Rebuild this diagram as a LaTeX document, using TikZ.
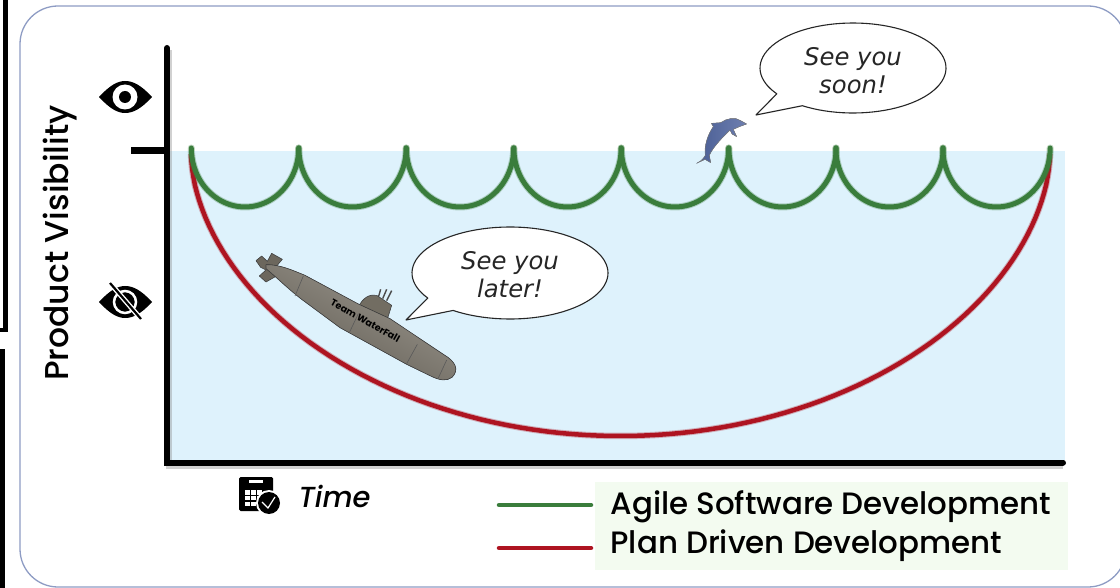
\documentclass[tikz,border=0pt]{standalone}
\usepackage{fontspec}
\setmainfont{Poppins Medium}[ItalicFont={Poppins Medium Italic},BoldFont={Poppins Bold}]
\newfontfamily\dejavu{DejaVu Sans}
\usetikzlibrary{shadings}
\definecolor{water}{HTML}{DEF2FC}
\definecolor{legendbg}{HTML}{F3FBF0}
\definecolor{frameblue}{HTML}{8E9CC4}
\definecolor{wavegreen}{HTML}{3A7D3C}
\definecolor{planred}{HTML}{AE1421}
\definecolor{subgrey}{HTML}{7F796D}
\definecolor{dolphinA}{HTML}{4A5E94}
\definecolor{dolphinB}{HTML}{6E7FB0}
\tikzset{
  x=1pt,y=-1pt,
  axisline/.style={line width=6pt,black},
  axisshadow/.style={line width=6pt,black!45,opacity=.4},
  greenline/.style={line width=5pt,wavegreen},
  greenblur/.style={line width=7pt,wavegreen,opacity=.3},
  redline/.style={line width=4.5pt,planred},
  redblur/.style={line width=6.5pt,planred,opacity=.3},
  bubble/.style={draw=black!85,fill=white,line width=1.1pt,line join=round},
  bubbletext/.style={font=\dejavu\itshape\fontsize{24.3}{28}\selectfont,align=center,text=black!85},
  legendtext/.style={font=\fontsize{30.9}{34}\selectfont,anchor=west,text=black},
  subpart/.style={draw=black!75,line width=.6pt,line join=round},
}
\begin{document}
\begin{tikzpicture}
\useasboundingbox (0,0) rectangle (1120,588);
\fill[white] (0,0) rectangle (1120,588);
% cropped black frames at the left
\draw[black,line width=4.5pt] (5.5,-5) -- (5.5,330) -- (-5,330);
\fill[black] (0,349) rectangle (5,588);
% rounded panel
\draw[frameblue,line width=1.3pt,rounded corners=38pt] (20,6) rectangle (1126,587);
% water and legend background
\fill[water] (170,151) rectangle (1065,460);
\fill[legendbg] (595,482) rectangle (1068,570);
% plan-driven curve
\draw[redblur,domain=0.5:179.5,samples=100] plot ({620.5+429.5*cos(\x)},{152+284*pow(sin(\x),1.08)});
\draw[redline,domain=0.5:179.5,samples=100] plot ({620.5+429.5*cos(\x)},{152+284*pow(sin(\x),1.08)});
% agile scallops
\foreach \c in {245,352.5,460,567.5,675,782.5,889.5,996.5}{
  \draw[greenblur,domain=180:360,samples=40,line cap=round] plot ({\c+53.7*cos(\x)},{148-59*sin(\x)});
  \draw[greenline,domain=180:360,samples=40,line cap=round] plot ({\c+53.7*cos(\x)},{148-59*sin(\x)});
}
% axes
\draw[axisshadow] (166,466) -- (1063,466);
\draw[axisshadow,line width=3pt] (170.5,50) -- (170.5,460);
\draw[axisline,line cap=round] (167,48) -- (167,462.5) -- (1063,462.5);
\draw[axisline,line width=7pt,line cap=butt] (131,151) -- (167,151);
% axis labels
\node[rotate=90,font=\fontsize{33}{36}\selectfont] (ylabel) at (60,243) {Product Visibility};
\node[font=\itshape\fontsize{29}{32}\selectfont,anchor=west] (xlabel) at (295,496) {Time};
% eye icon
\fill[black] (99,97) .. controls (110,85) and (118,81) .. (125,81) .. controls (133,81) and (141,85) .. (152,97) .. controls (141,109) and (133,113) .. (125,113) .. controls (118,113) and (110,109) .. (99,97) -- cycle;
\fill[white] (125,97) circle (12.5);
\fill[black] (125,97) circle (6);
% slashed eye icon
\fill[black] (99,302) .. controls (110,290) and (118,286) .. (125,286) .. controls (133,286) and (141,290) .. (152,302) .. controls (141,314) and (133,318) .. (125,318) .. controls (118,318) and (110,314) .. (99,302) -- cycle;
\draw[white,line width=2.5pt] (125,302) circle (11);
\fill[black] (125,302) circle (6);
\draw[white,line width=5pt] (110,283) -- (141,319);
\draw[black,line width=2.2pt] (110,283) -- (141,319);
% calendar icon
\fill[black,rounded corners=1.5pt] (239,477) rectangle (273,511);
\fill[white] (249,480) rectangle (263,483);
\foreach \i in {0,1,2}{\foreach \j in {0,1,2}{
  \fill[white] ({245+\i*6.2},{490+\j*5.8}) rectangle ({249.5+\i*6.2},{494.5+\j*5.8});}}
\fill[white] (269,503) circle (13);
\fill[black] (269,503) circle (11);
\draw[white,line width=1.2pt] (262,502) -- (268,508) -- (275,497);
% speech bubbles
\coordinate (latertip) at (406,320);
\coordinate (soontip) at (756,115);
\draw[bubble] (latertip) -- plot[domain=147:485.5,samples=90] ({510+98*cos(\x)},{273+46*sin(\x)}) -- cycle;
\draw[bubble] (soontip) -- plot[domain=145:483,samples=90] ({853+93*cos(\x)},{68+45*sin(\x)}) -- cycle;
\node[bubbletext] (later) at (510,275) {See you\\later!};
\node[bubbletext] (soon) at (853,71) {See you\\soon!};
% submarine
\begin{scope}[shift={(230,220)},scale=1/3]
  \filldraw[subpart,fill=subgrey!85!black] (78,122) -- (95,108) -- (112,124) -- (125,100) -- (157,118) -- (140,138) -- (122,140) -- (136,170) -- (108,186) -- (88,168) -- (108,150) -- (92,142) -- cycle;
  \draw[black!70,line width=1.4pt] (445,232) -- (452,208) (458,236) -- (470,208) (470,242) -- (485,212);
  \filldraw[subpart,fill=subgrey!90!black] (385,262) .. controls (398,232) and (420,222) .. (440,226) -- (485,256) -- (470,304) -- cycle;
  \filldraw[subpart,top color=subgrey!75!white,bottom color=subgrey!75!black,shading angle=-29]
    (108,134) .. controls (150,133) and (190,152) .. (225,166)
    -- (385,252) -- (480,296) -- (640,403)
    .. controls (678,425) and (688,450) .. (666,472)
    .. controls (650,484) and (630,482) .. (600,467)
    -- (530,433) -- (330,323) -- (215,238)
    .. controls (170,203) and (140,172) .. (108,146) -- cycle;
  \draw[black!65,line width=.6pt] (220,168) -- (195,228) (385,281) -- (358,338) (562,373) -- (530,431) (650,420) -- (625,474);
  \node[rotate=-29,font=\bfseries\fontsize{9.5}{10}\selectfont,text=black] (team) at (406,302) {Team WaterFall};
\end{scope}
% dolphin
\begin{scope}[shift={(680,10)},scale=1/3]
  \filldraw[draw=black!50,line width=.4pt,left color=dolphinA,right color=dolphinB,line join=round]
    (50,460) .. controls (60,455) and (68,450) .. (76,436) .. controls (72,410) and (82,375) .. (100,350)
    -- (94,340) -- (122,338) .. controls (140,325) and (165,320) .. (182,332) -- (200,342)
    -- (178,350) .. controls (172,352) and (166,356) .. (160,358) -- (170,380) -- (156,372) -- (150,360)
    .. controls (125,385) and (100,410) .. (88,436) -- (92,458) -- (75,448) -- cycle;
\end{scope}
% legend
\draw[wavegreen,line width=4.5pt,line cap=round] (499,505) coordinate (gs) -- (591,505) coordinate (ge);
\draw[planred,line width=4.5pt,line cap=round] (499,548) coordinate (rs) -- (591,548) coordinate (re);
\node[legendtext] (agile) at (607,507) {Agile Software Development};
\node[legendtext] (plan) at (607,546) {Plan Driven Development};
\end{tikzpicture}
\end{document}
